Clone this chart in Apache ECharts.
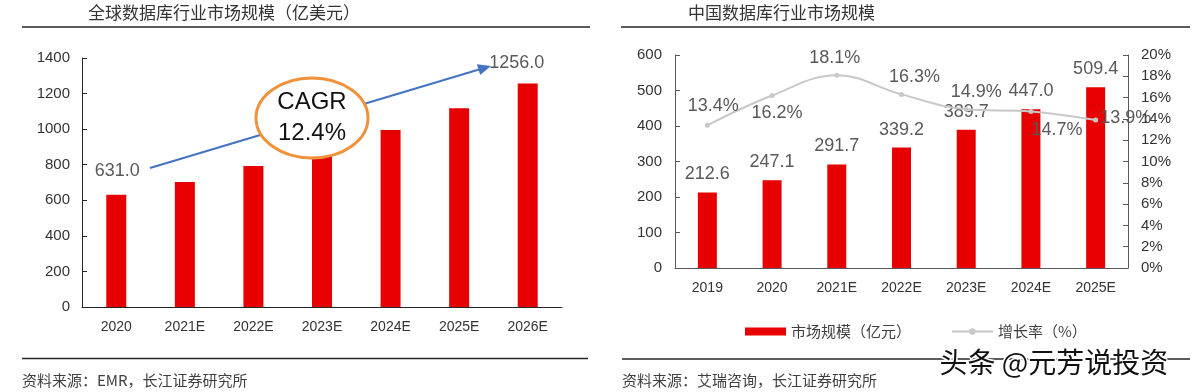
<!DOCTYPE html>
<html>
<head>
<meta charset="utf-8">
<script src="https://cdn.jsdelivr.net/npm/echarts@6/dist/echarts.min.js"></script>
<style>html,body{margin:0;padding:0;background:#fff;}#c{width:1200px;height:392px;}</style>
</head>
<body>
<div id="c"></div>
<script>
// ---- Data ----
const globalCategories = ['2020', '2021E', '2022E', '2023E', '2024E', '2025E', '2026E'];
const globalValues = [631, 703, 793, 890, 995, 1118, 1256];
const globalTicks = [0, 200, 400, 600, 800, 1000, 1200, 1400];

const chinaCategories = ['2019', '2020', '2021E', '2022E', '2023E', '2024E', '2025E'];
const chinaValues = [212.6, 247.1, 291.7, 339.2, 389.7, 447.0, 509.4];
const chinaGrowth = [13.4, 16.2, 18.1, 16.3, 14.9, 14.7, 13.9];
const chinaTicksLeft = [0, 100, 200, 300, 400, 500, 600];
const chinaTicksRight = [0, 2, 4, 6, 8, 10, 12, 14, 16, 18, 20];

const globalTitle = '全球数据库行业市场规模（亿美元）';
const chinaTitle = '中国数据库行业市场规模';
const globalSource = '资料来源：EMR，长江证券研究所';
const chinaSource = '资料来源：艾瑞咨询，长江证券研究所';
const legendBar = '市场规模（亿元）';
const legendLine = '增长率（%）';
const cagrText = 'CAGR\n12.4%';
const watermark = '头条 @元芳说投资';

// ---- Styles ----
const RED = '#E60000';
const GREY_LINE = '#C8C8C8';
const FONT = '"Liberation Sans", "Noto Sans CJK SC", sans-serif';
const CJK = '"Noto Sans CJK SC", "Liberation Sans", sans-serif';

const chart = echarts.init(document.getElementById('c'), null, {renderer: 'canvas'});

// label placement for growth line (styling only)
const growthLabelCfg = [
  {position: 'top', offset: [6, -2]},
  {position: 'bottom', offset: [5, 0]},
  {position: 'top', offset: [-2, 0]},
  {position: 'top', offset: [13, 0]},
  {position: 'top', offset: [10, 0]},
  {position: 'right', offset: [-8, 19]},
  {position: 'right', offset: [-4, -2]}
];

const globalData = globalValues.map((v, i) => {
  const d = {value: v};
  if (i === 0) d.label = {show: true, position: 'top', distance: 15, offset: [1, 0]};
  else if (i === globalValues.length - 1) d.label = {show: true, position: 'top', distance: 12, offset: [-11, 0]};
  return d;
});

const growthData = chinaGrowth.map((v, i) => ({value: v, label: growthLabelCfg[i]}));

const option = {
  backgroundColor: '#fff',
  animation: false,
  grid: [
    {left: 82, top: 58, width: 480, height: 249},
    {left: 675, top: 55, width: 453, height: 213}
  ],
  legend: {
    left: 740, top: 319,
    itemWidth: 41, itemHeight: 8, itemGap: 40,
    textStyle: {fontSize: 15, color: '#404040', fontFamily: CJK},
    data: [
      {name: legendBar, icon: 'rect'},
      {name: legendLine}
    ]
  },
  xAxis: [
    {
      type: 'category', gridIndex: 0, data: globalCategories,
      axisLine: {lineStyle: {color: '#262626', width: 1}},
      axisTick: {inside: true, length: 5, lineStyle: {color: '#262626'}},
      axisLabel: {fontSize: 14, color: '#333', margin: 13, fontFamily: FONT}
    },
    {
      type: 'category', gridIndex: 1, data: chinaCategories,
      axisLine: {lineStyle: {color: '#595959', width: 1}},
      axisTick: {inside: true, length: 5, lineStyle: {color: '#595959'}},
      axisLabel: {fontSize: 14, color: '#333', margin: 13, fontFamily: FONT}
    }
  ],
  yAxis: [
    {
      type: 'value', gridIndex: 0,
      min: globalTicks[0], max: globalTicks[globalTicks.length - 1], interval: globalTicks[1] - globalTicks[0],
      splitLine: {show: false},
      axisLine: {show: true, lineStyle: {color: '#262626', width: 1}},
      axisTick: {show: true, inside: true, length: 5, lineStyle: {color: '#262626'}},
      axisLabel: {fontSize: 15, color: '#333', margin: 12, fontFamily: FONT, formatter: v => String(v)}
    },
    {
      type: 'value', gridIndex: 1,
      min: chinaTicksLeft[0], max: chinaTicksLeft[chinaTicksLeft.length - 1], interval: chinaTicksLeft[1] - chinaTicksLeft[0],
      splitLine: {show: false},
      axisLine: {show: true, lineStyle: {color: '#595959', width: 1}},
      axisTick: {show: true, inside: true, length: 5, lineStyle: {color: '#595959'}},
      axisLabel: {fontSize: 15, color: '#333', margin: 13, fontFamily: FONT, formatter: v => String(v)}
    },
    {
      type: 'value', gridIndex: 1, position: 'right',
      min: chinaTicksRight[0], max: chinaTicksRight[chinaTicksRight.length - 1], interval: chinaTicksRight[1] - chinaTicksRight[0],
      splitLine: {show: false},
      axisLine: {show: true, lineStyle: {color: '#595959', width: 1}},
      axisTick: {show: true, inside: true, length: 5, lineStyle: {color: '#595959'}},
      axisLabel: {fontSize: 15, color: '#333', margin: 13, fontFamily: FONT, formatter: '{value}%'}
    }
  ],
  series: [
    {
      type: 'bar', name: 'global', xAxisIndex: 0, yAxisIndex: 0,
      data: globalData, barWidth: 20,
      itemStyle: {color: RED},
      label: {show: false, fontSize: 18, color: '#595959', fontFamily: FONT,
        formatter: p => p.value.toFixed(1)}
    },
    {
      type: 'bar', name: legendBar, xAxisIndex: 1, yAxisIndex: 1,
      data: chinaValues, barWidth: 19,
      itemStyle: {color: RED},
      label: {show: true, position: 'top', distance: 9, fontSize: 18, color: '#595959', fontFamily: FONT,
        formatter: p => p.value.toFixed(1)}
    },
    {
      type: 'line', name: legendLine, xAxisIndex: 1, yAxisIndex: 2,
      data: growthData, smooth: 0.4,
      symbol: 'circle', symbolSize: 5,
      lineStyle: {color: GREY_LINE, width: 2},
      itemStyle: {color: GREY_LINE},
      label: {show: true, fontSize: 18, color: '#595959', fontFamily: FONT, distance: 6,
        formatter: p => p.value.toFixed(1) + '%'},
      z: 5
    }
  ],
  graphic: [
    // titles
    {type: 'text', left: 88, top: 4, style: {text: globalTitle, font: '17px ' + CJK, fill: '#333'}},
    {type: 'text', left: 688, top: 4, style: {text: chinaTitle, font: '17px ' + CJK, fill: '#333'}},
    // rules
    {type: 'line', shape: {x1: 22, y1: 27, x2: 590, y2: 27}, style: {stroke: '#262626', lineWidth: 1.5}},
    {type: 'line', shape: {x1: 621, y1: 27, x2: 1190, y2: 27}, style: {stroke: '#262626', lineWidth: 1.5}},
    {type: 'line', shape: {x1: 22, y1: 358.5, x2: 588, y2: 358.5}, style: {stroke: '#262626', lineWidth: 1.5}},
    {type: 'line', shape: {x1: 622, y1: 359, x2: 1190, y2: 359}, style: {stroke: '#262626', lineWidth: 1.5}},
    // sources
    {type: 'text', left: 22, top: 373, style: {text: globalSource, font: '15px ' + CJK, fill: '#404040'}},
    {type: 'text', left: 622, top: 373, style: {text: chinaSource, font: '15px ' + CJK, fill: '#404040'}},
    // CAGR arrow
    {type: 'line', shape: {x1: 150, y1: 168, x2: 479, y2: 69.5}, style: {stroke: '#4472C4', lineWidth: 2}, z: 10},
    {type: 'polygon', shape: {points: [[491, 66], [480.2, 75], [476.8, 64.2]]}, style: {fill: '#4472C4'}, z: 10},
    // CAGR ellipse
    {type: 'ellipse', shape: {cx: 312, cy: 118, rx: 56, ry: 40}, style: {fill: '#fff', stroke: '#F0923C', lineWidth: 3}, z: 20},
    {type: 'text', x: 312, y: 118, style: {text: cagrText, font: '24px ' + FONT, fill: '#111', align: 'center', verticalAlign: 'middle', lineHeight: 31}, z: 21},
    // watermark
    {type: 'text', left: 938, top: 347, style: {text: watermark, font: '28px ' + CJK, fill: '#111', stroke: '#fff', lineWidth: 3}, z: 30}
  ]
};
chart.setOption(option);
</script>
</body>
</html>
